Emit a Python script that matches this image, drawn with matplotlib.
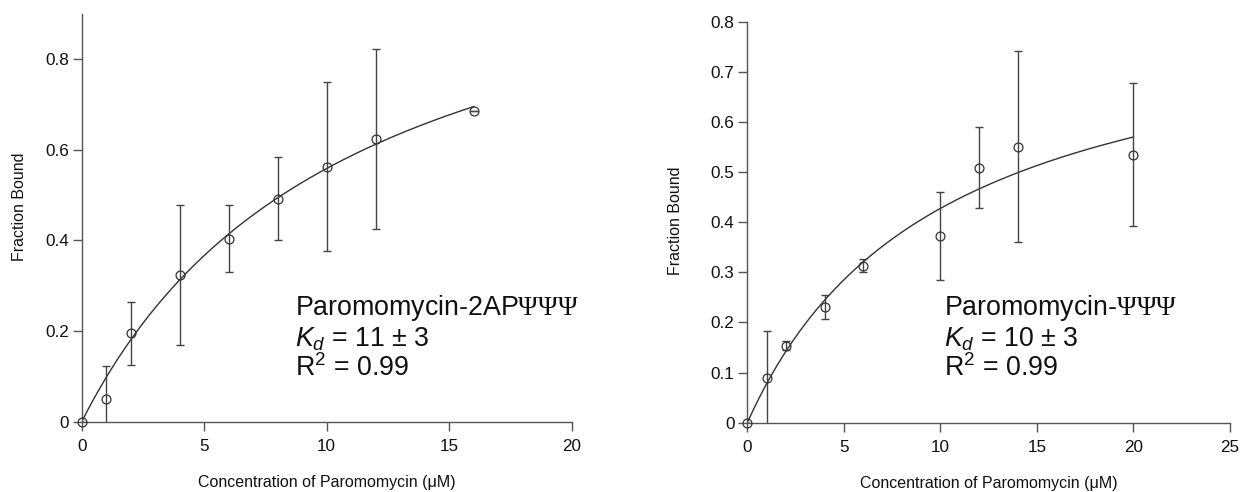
import numpy as np
import matplotlib
matplotlib.use("Agg")
import matplotlib.pyplot as plt

plt.rcParams['font.family'] = ['Liberation Sans', 'DejaVu Sans']
plt.rcParams['mathtext.fontset'] = 'custom'
plt.rcParams['mathtext.rm'] = 'Liberation Sans'
plt.rcParams['mathtext.it'] = 'Liberation Sans:italic'
plt.rcParams['mathtext.sf'] = 'Liberation Serif'

# ---- data: left panel (Paromomycin-2APΨΨΨ)
conc_a = [0, 1, 2, 4, 6, 8, 10, 12, 16]
bound_a = [0.0, 0.051, 0.195, 0.324, 0.404, 0.492, 0.563, 0.624, 0.686]
err_a = [0.0, 0.073, 0.069, 0.155, 0.074, 0.092, 0.187, 0.199, 0.0]
kd_a = 11.0
bmax_a = 1.174
fit_end_a = 16
xticks_a = [0, 5, 10, 15, 20]
yticks_a = [0, 0.2, 0.4, 0.6, 0.8]
yticklabels_a = ["0", "0.2", "0.4", "0.6", "0.8"]
label_a = ["Paromomycin-2AP$\\mathsf{\\Psi\\Psi\\Psi}$", "$K_d$ = 11 ± 3", "R$^2$ = 0.99"]

# ---- data: right panel (Paromomycin-ΨΨΨ)
conc_b = [0, 1, 2, 4, 6, 10, 12, 14, 20]
bound_b = [0.0, 0.090, 0.154, 0.230, 0.313, 0.372, 0.509, 0.551, 0.535]
err_b = [0.0, 0.093, 0.009, 0.024, 0.013, 0.088, 0.080, 0.191, 0.142]
kd_b = 10.0
bmax_b = 0.855
fit_end_b = 20
xticks_b = [0, 5, 10, 15, 20, 25]
yticks_b = [0, 0.1, 0.2, 0.3, 0.4, 0.5, 0.6, 0.7, 0.8]
yticklabels_b = ["0", "0.1", "0.2", "0.3", "0.4", "0.5", "0.6", "0.7", "0.8"]
label_b = ["Paromomycin-$\\mathsf{\\Psi\\Psi\\Psi}$", "$K_d$ = 10 ± 3", "R$^2$ = 0.99"]

W, H = 1240, 492
fig = plt.figure(figsize=(W / 100, H / 100), dpi=100)

def px_rect(x0, x1, ytop, ybot):
    return [x0 / W, 1 - ybot / H, (x1 - x0) / W, (ybot - ytop) / H]

ax1 = fig.add_axes(px_rect(81.7, 571.7, 14, 421.7))
ax2 = fig.add_axes(px_rect(747.3, 1230, 21.7, 422.7))

line_c = '#333333'
spine_c = '#555555'

def draw(ax, x, y, e, kd, bmax, xend, xlim, ylim, xt, yt, ytl, lines, text_x):
    xf = np.linspace(0, xend, 200)
    ax.plot(xf, bmax * xf / (kd + xf), color=line_c, lw=1.0)
    ax.errorbar(x, y, yerr=e, fmt='none', ecolor='#444444', elinewidth=1.0,
                capsize=2.8, capthick=1.0)
    ax.plot(x, y, 'o', ms=6.4, mfc='none', mec=line_c, mew=0.9, clip_on=False, zorder=5)
    ax.set_xlim(*xlim)
    ax.set_ylim(*ylim)
    ax.set_xticks(xt)
    ax.set_xticklabels([str(v) for v in xt])
    ax.set_yticks(yt)
    ax.set_yticklabels(ytl)
    for s in ['top', 'right']:
        ax.spines[s].set_visible(False)
    for s in ['left', 'bottom']:
        ax.spines[s].set_color(spine_c)
        ax.spines[s].set_linewidth(1.0)
    ax.tick_params(axis='both', direction='out', length=6.3, width=1.0, color=spine_c,
                   labelsize=12.3, labelcolor='#111111')
    ax.tick_params(axis='y', pad=3)
    ax.tick_params(axis='x', pad=6)
    ax.set_xlabel('Concentration of Paromomycin (μM)', fontsize=11.5, color='#111111', labelpad=15)
    ax.set_ylabel('Fraction Bound', fontsize=11.5, color='#111111')
    baselines = [315, 346.5, 376.5]
    for t, b in zip(lines, baselines):
        fig.text(text_x / W, 1 - b / H, t, fontsize=19.3, va='baseline', ha='left', color='#111111')

draw(ax1, conc_a, bound_a, err_a, kd_a, bmax_a, fit_end_a, (0, 20), (0, 0.9),
     xticks_a, yticks_a, yticklabels_a, label_a, 295)
draw(ax2, conc_b, bound_b, err_b, kd_b, bmax_b, fit_end_b, (0, 25), (0, 0.8),
     xticks_b, yticks_b, yticklabels_b, label_b, 944)

ax1.yaxis.set_label_coords(-(81.7 - 27) / 490, 0.527)
ax2.yaxis.set_label_coords(-(747.3 - 683) / 482.7, 0.503)

fig.savefig('out.png', dpi=100)
